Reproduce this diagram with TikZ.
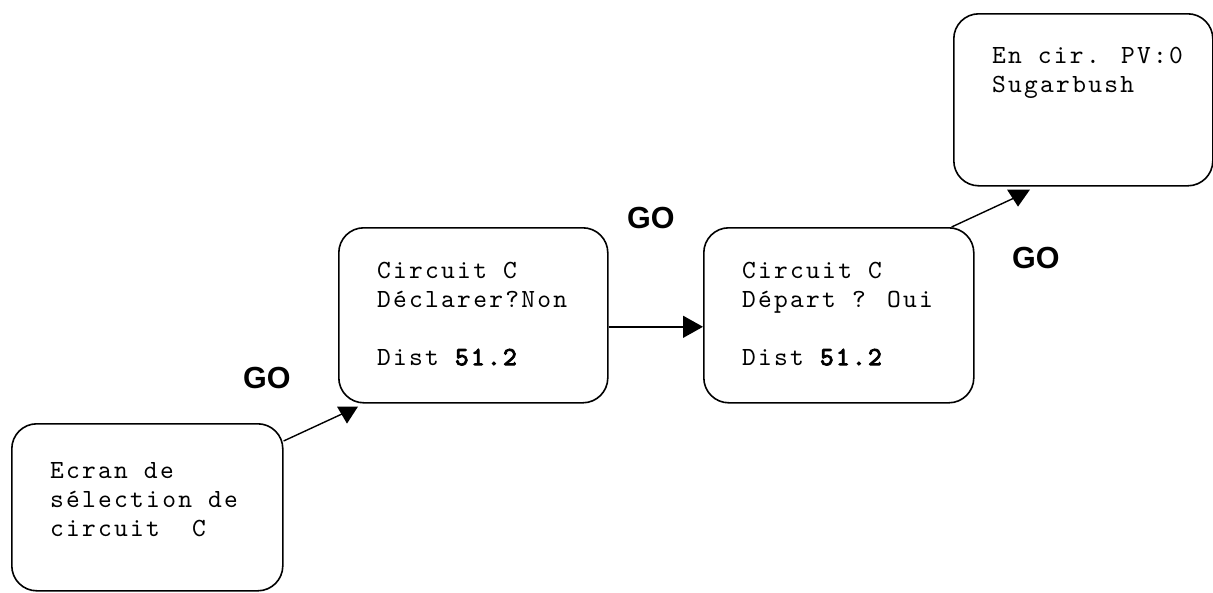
\documentclass[tikz,border=0pt]{standalone}
\usepackage{fontspec}
\setmainfont{Liberation Sans}
\newfontfamily\screenfont{lmmono10-regular.otf}[LetterSpace=8.6]
\newfontfamily\screenbold{lmmono10-regular.otf}[LetterSpace=8.6,FakeBold=3.5]
\usetikzlibrary{calc,arrows.meta}
\tikzset{
  screen/.style={draw, line width=1.6pt, rounded corners=25pt, anchor=north west, inner sep=0pt},
  screentext/.style={anchor=north west, inner sep=0pt, align=left,
    font=\screenfont\fontsize{26.2}{29}\selectfont},
  golabel/.style={anchor=base west, inner sep=0pt, font=\fontsize{30.5}{32}\selectfont\bfseries},
  link/.style={line width=1.4pt},
  headmark/.style={fill=black}
}
\newcommand{\firstline}{\rule{0pt}{20pt}}
\newcommand{\distvalue}{{\screenbold\fontsize{26.2}{29}\selectfont 51.2}}
\begin{document}
\begin{tikzpicture}[x=1pt,y=-1pt]
\useasboundingbox (0,0) rectangle (1213,592);

% screens
\node[screen, minimum width=271pt, minimum height=167pt] (b1) at (11,423) {};
\node[screen, minimum width=269pt, minimum height=175pt] (b2) at (338,227) {};
\node[screen, minimum width=270pt, minimum height=175pt] (b3) at (703,227) {};
\node[screen, minimum width=259pt, minimum height=172pt] (b4) at (953,13) {};

% screen contents
\node[screentext] (t1) at (50,458) {\firstline Ecran de\\s\'election de\\circuit\ \ C};
\node[screentext] (t2) at (377,258) {\firstline Circuit C\\D\'eclarer?Non\\[29pt]Dist \distvalue};
\node[screentext] (t3) at (742,258) {\firstline Circuit C\\D\'epart ? Oui\\[29pt]Dist \distvalue};
\node[screentext] (t4) at (992,43) {\firstline En cir. PV:0\\Sugarbush};

% key labels
\node[golabel] (g1) at (243,388) {GO};
\node[golabel] (g2) at (627,228) {GO};
\node[golabel] (g3) at (1012,268) {GO};

% transitions
\coordinate (s1) at ($(b1.north east)+(0,18)$);
\coordinate (e1) at ($(b2.south west)+(7,9)$);
\draw[link] (s1) -- (e1);
\fill[headmark] ($(b2.south west)+(-1,3)$) -- ($(b2.south west)+(20,3)$) -- ($(b2.south west)+(9,20)$) -- cycle;

\draw[link, -{Triangle[length=20pt,width=22pt]}] ($(b2.east)+(0,11.5)$) -- ($(b3.west)+(0,11.5)$);

\coordinate (s3) at ($(b3.north east)+(-23,0)$);
\coordinate (e3) at ($(b4.south west)+(62,11)$);
\draw[link] (s3) -- (e3);
\fill[headmark] ($(b4.south west)+(54,3)$) -- ($(b4.south west)+(77,3)$) -- ($(b4.south west)+(65,20)$) -- cycle;
\end{tikzpicture}
\end{document}
